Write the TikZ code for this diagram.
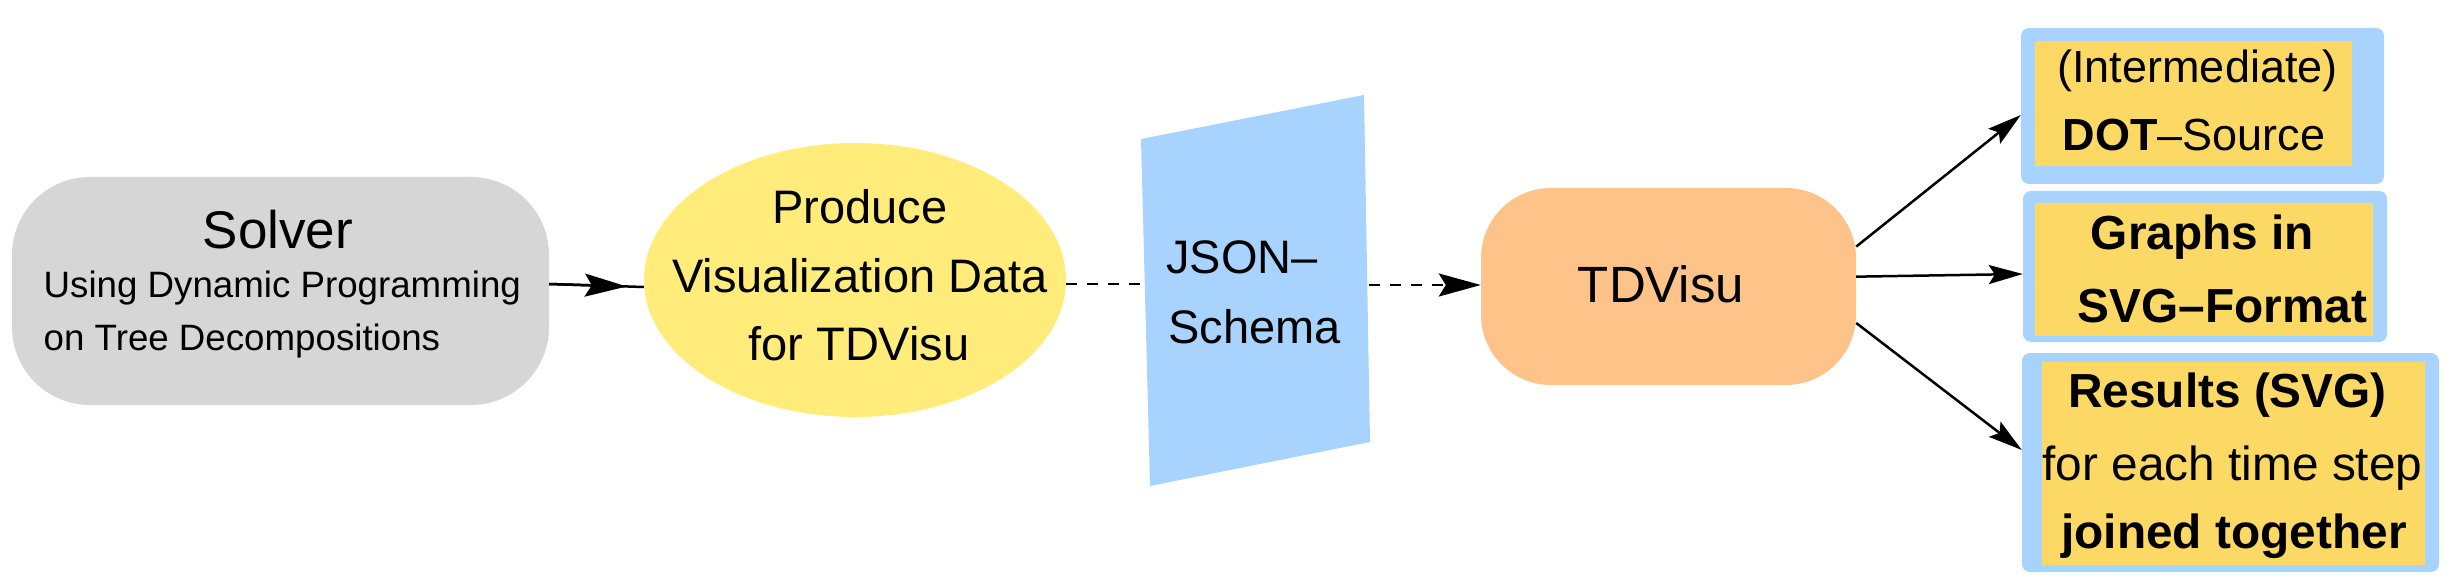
\documentclass[tikz,border=0pt]{standalone}
\usepackage{fontspec}
\setmainfont{Liberation Sans}
\usetikzlibrary{arrows.meta,calc,shapes.geometric}
\definecolor{solvergray}{HTML}{D6D6D6}
\definecolor{prodyellow}{HTML}{FFEC7A}
\definecolor{jsonblue}{HTML}{A8D3FE}
\definecolor{tdorange}{HTML}{FEC388}
\definecolor{boxyellow}{HTML}{FCD964}
\definecolor{boxblue}{HTML}{A8D3FE}
\tikzset{
  txt/.style={inner sep=0pt, anchor=base},
  txtw/.style={inner sep=0pt, anchor=base west},
  fA/.style={font=\fontsize{53}{60}\selectfont},
  fB/.style={font=\fontsize{36.7}{44}\selectfont},
  fC/.style={font=\fontsize{47}{56}\selectfont},
  fD/.style={font=\fontsize{51}{60}\selectfont},
  fE/.style={font=\fontsize{45}{54}\selectfont},
  fF/.style={font=\fontsize{47.8}{56}\selectfont},
  solverbox/.style={draw=none, fill=solvergray, rounded corners=78pt, inner sep=0pt},
  tdbox/.style={draw=none, fill=tdorange, rounded corners=70pt, inner sep=0pt},
  prodell/.style={ellipse, draw=none, fill=prodyellow, inner sep=0pt},
  outerbox/.style={draw=none, fill=boxblue, rounded corners=8pt, inner sep=0pt},
  innerbox/.style={draw=none, fill=boxyellow, inner sep=0pt},
  conn/.style={line width=2.5pt, black},
  bigtip/.style={-{Stealth[length=42pt, width=23pt, inset=7pt]}},
  smalltip/.style={-{Stealth[length=34pt, width=19pt, inset=6pt]}},
  dashline/.style={conn, dash pattern=on 10.5pt off 10.5pt},
}
\begin{document}
\begin{tikzpicture}[x=1pt,y=-1pt]
\useasboundingbox (0,0) rectangle (2460,580);

% Solver
\node[solverbox, minimum width=537pt, minimum height=228pt] (solver) at (280.5,291) {};
\node[txt, fA] (solvert) at (278,248) {Solver};
\node[txtw, fB] (solveru) at (43.5,297) {Using Dynamic Programming};
\node[txtw, fB] (solvero) at (43.5,350) {on Tree Decompositions};

% Produce ellipse
\node[prodell, minimum width=422pt, minimum height=274pt] (prod) at (855,280) {};
\node[txt, fC] (prod1) at (860,223) {Produce};
\node[txt, fC] (prod2) at (860,292) {Visualization Data};
\node[txt, fC] (prod3) at (859,360) {for TDVisu};

% JSON schema
\coordinate (j1) at (1141,139);
\coordinate (j2) at (1364,95);
\coordinate (j3) at (1370,442);
\coordinate (j4) at (1150,486);
\fill[jsonblue] (j1) -- (j2) -- (j3) -- (j4) -- cycle;
\coordinate (jin) at (1145,284);
\coordinate (jout) at (1369,285);
\node[txtw, fC] (json1) at (1166,273) {JSON–};
\node[txtw, fC] (json2) at (1168,343) {Schema};

% TDVisu
\node[tdbox, minimum width=375pt, minimum height=197pt] (td) at (1668.5,286.5) {};
\node[txt, fD] (tdt) at (1661,302) {TDVisu};

% Output boxes
\node[outerbox, minimum width=363pt, minimum height=156pt] (b1) at (2202.5,106) {};
\node[innerbox, minimum width=317pt, minimum height=125pt] (i1) at (2193.5,104) {};
\node[txt, fE] (b1a) at (2197.5,83) {(Intermediate)};
\node[txt, fE] (b1b) at (2194,151) {\textbf{DOT}–Source};

\node[outerbox, minimum width=364pt, minimum height=151pt] (b2) at (2205,266.5) {};
\node[innerbox, minimum width=338pt, minimum height=133pt] (i2) at (2204,269.5) {};
\node[txt, fF] (b2a) at (2202.5,249) {\textbf{Graphs in}};
\node[txt, fF] (b2b) at (2222.5,322) {\textbf{SVG–Format}};

\node[outerbox, minimum width=417pt, minimum height=219pt] (b3) at (2230.5,462.5) {};
\node[innerbox, minimum width=383pt, minimum height=203pt] (i3) at (2233.5,463.5) {};
\node[txt, fF] (b3a) at (2227.5,407) {\textbf{Results (SVG)}};
\node[txt, fF] (b3b) at (2232.5,480) {for each time step};
\node[txt, fF] (b3c) at (2234,548) {\textbf{joined together}};

% Connectors
\draw[conn] ([yshift=7pt]solver.east) -- ([yshift=-7pt]prod.west);
\draw[conn, bigtip, shorten >=17pt] ([yshift=7pt]solver.east) -- ([yshift=-7pt]prod.west);
\draw[dashline] (prod.east |- jin) -- (jin);
\draw[dashline, bigtip] (jout) -- (td.west |- jout);
\draw[conn, smalltip] (td.12.85) -- ([yshift=-9pt]b1.west);
\draw[conn, smalltip] (td.3.5) -- ([yshift=-7.5pt]b2.west);
\draw[conn, smalltip] (td.-11) -- ([yshift=12.5pt]b3.west);
\end{tikzpicture}
\end{document}
